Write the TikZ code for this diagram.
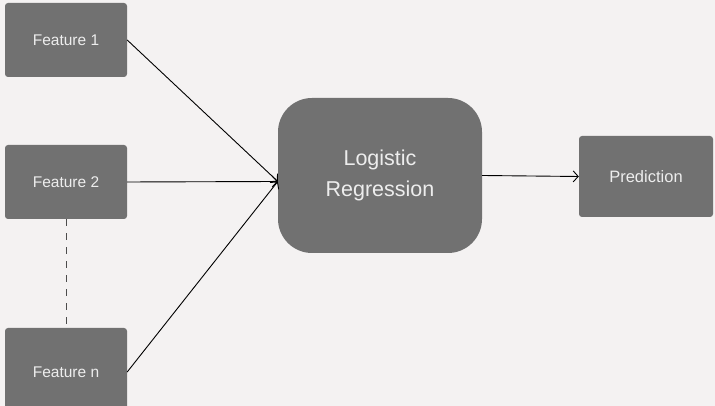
\documentclass[tikz,border=0pt]{standalone}
\usepackage{fontspec}
\setmainfont{Liberation Sans}
\usetikzlibrary{arrows.meta}
\definecolor{paper}{HTML}{F4F2F2}
\definecolor{boxgray}{HTML}{717171}
\definecolor{boxtext}{HTML}{EDEDED}
\tikzset{
  featbox/.style={fill=boxgray, text=boxtext, rounded corners=3pt,
    minimum width=122pt, minimum height=74pt, inner sep=0pt,
    font=\fontsize{15.5}{18}\selectfont},
  modelbox/.style={fill=boxgray, text=boxtext, rounded corners=34pt,
    minimum width=204pt, minimum height=155pt, align=center,
    font=\fontsize{21.5}{31}\selectfont},
  wire/.style={draw=black, line width=0.9pt, -{Straight Barb[length=5pt,width=11pt]}},
}
\begin{document}
\begin{tikzpicture}[x=1pt,y=1pt]
  \useasboundingbox (0,0) rectangle (715,406);
  \clip (0,0) rectangle (715,406);
  \fill[paper] (0,0) rectangle (715,406);
  \node[featbox] (f1) at (66,366) {Feature 1};
  \node[featbox] (f2) at (66,224) {Feature 2};
  \node[featbox, minimum height=88pt] (fn) at (66,34) {Feature n};
  \node[modelbox] (lr) at (380,230.5) {Logistic\\Regression};
  \node[featbox, minimum width=134pt, minimum height=81pt, font=\fontsize{16.5}{19}\selectfont] (pred) at (646,229.5) {Prediction};
  \coordinate (lrin) at ([yshift=-6pt]lr.west);
  \draw[wire] (f1.east) -- (lrin);
  \draw[wire] (f2.east) -- (lrin);
  \draw[wire] (fn.east) -- (lrin);
  \draw[wire] (lr.east) -- (pred.west);
  \draw[black!70, line width=0.8pt, dash pattern=on 7pt off 7pt] (f2.south) -- (fn.north);
\end{tikzpicture}
\end{document}
